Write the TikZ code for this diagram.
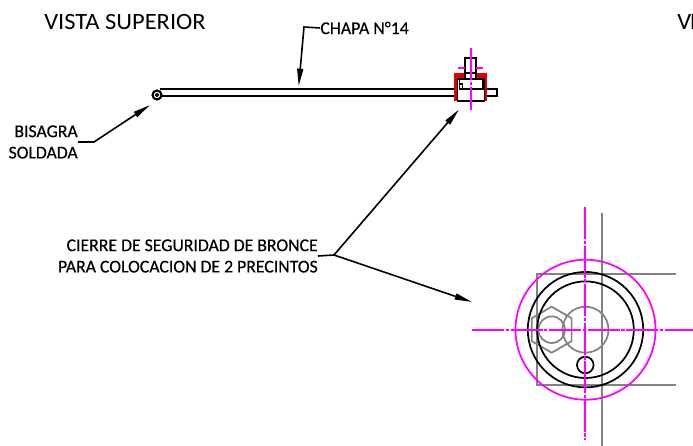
\documentclass[tikz,border=0pt]{standalone}
\usepackage{fontspec}
\newfontfamily\notefont[FakeStretch=0.985, FakeBold=0.5]{Carlito}
\newfontfamily\titlefont[FakeStretch=1.05]{Carlito}
\usetikzlibrary{arrows.meta}
\definecolor{cadpink}{RGB}{255,0,255}
\definecolor{cadred}{RGB}{225,0,0}
\definecolor{cadgray}{RGB}{130,130,130}
\tikzset{
	leader/.style={draw=black, line width=1.2pt},
	tip/.style={-{Stealth[inset=0pt, length=13pt, width=4.5pt]}},
	axisline/.style={draw=cadpink, line width=1.3pt, dash pattern=on 24pt off 1.2pt on 2.5pt off 1.2pt},
	part/.style={draw=black, line width=1.3pt},
	ghost/.style={draw=cadgray, line width=1.3pt},
	seal/.style={draw=cadred, line width=2.4pt},
	notetext/.style={inner sep=0pt, font=\notefont\fontsize{13.5}{16}\selectfont, align=right, anchor=east},
	titletext/.style={inner sep=0pt, font=\titlefont\fontsize{17.5}{20}\selectfont, anchor=west}
}
\begin{document}
\begin{tikzpicture}[x=0.75pt, y=-0.75pt]
	\useasboundingbox (0,0) rectangle (693,446);
	% titles
	\node[titletext] (topview) at (44,22) {VISTA SUPERIOR};
	\node[titletext] (sideview) at (677,22) {V\kern-1pt I};
	% notes
	\node[notetext] (chapa) at (409,28) {CHAPA N°14};
	\node[notetext] (bisagra) at (78,142) {BISAGRA\\SOLDADA};
	\node[notetext] (cierre) at (318,256) {CIERRE DE SEGURIDAD DE BRONCE\\PARA COLOCACION DE 2 PRECINTOS};
	% sheet and hinge
	\draw[part] (160,89) -- (497,89) -- (497,96) -- (160,96);
	\draw[part, line width=1.6pt] (157,95) circle (4.5);
	\draw[part, line width=0.8pt] (157,95) circle (1.5);
	% closure, top view
	\fill[white] (457,79) rectangle (485,101);
	\draw[seal, line width=3.6pt] (454,75.5) -- (487,75.5);
	\draw[seal] (456,75.5) -- (456,101);
	\draw[seal] (485.5,75.5) -- (485.5,101);
	\draw[part] (457.5,79) rectangle (484.5,101);
	\draw[part] (459.5,79) -- (459.5,89) -- (483,89) -- (483,79);
	\draw[part] (459.5,84) rectangle (462.5,89);
	\draw[part, fill=white] (465,58) rectangle (476,79);
	\draw[part] (465,73) -- (476,73);
	\draw[axisline] (470.7,48) -- (470.7,110);
	\draw[axisline, dash pattern=on 6pt off 1pt on 1.5pt off 1pt] (458,67.7) -- (465,67.7);
	\draw[axisline, dash pattern=on 6pt off 1pt on 1.5pt off 1pt] (476,67.7) -- (483,67.7);
	% closure, front view
	\coordinate (hub) at (585.5,329.7);
	\coordinate (nut) at (551.7,329.7);
	\draw[ghost] (675.7,274.3) -- (537,274.3) -- (537,384.7) -- (675.7,384.7);
	\draw[ghost] (602.3,212.7) -- (602.3,446);
	\draw[ghost] (hub) circle (23);
	\draw[ghost] (nut) circle (13.3);
	\draw[ghost] (nut) ++(90:23) -- ++(-30:23) -- ++(-90:23) -- ++(-150:23) -- ++(150:23) -- ++(90:23) -- cycle;
	\draw[part] (hub) circle (57.7);
	\draw[part] (hub) circle (48.3);
	\draw[part] (585.3,365) circle (8.3);
	\draw[draw=cadpink, line width=1.3pt] (hub) circle (70);
	\draw[axisline] (585.3,207) -- (585.3,440);
	\draw[axisline] (472,329.7) -- (693,329.7);
	% leaders
	\coordinate (chapabend) at (304,27);
	\coordinate (chapatip) at (298.7,86);
	\coordinate (bisagrabend) at (94,142);
	\coordinate (bisagratip) at (150,105);
	\coordinate (cierrebend) at (334,255);
	\coordinate (cierretip) at (459,109.5);
	\coordinate (fronttip) at (472,302);
	\draw[leader, tip] (chapa.west) -- (chapabend) -- (chapatip);
	\draw[leader, tip] (bisagra.east) -- (bisagrabend) -- (bisagratip);
	\draw[leader, tip] (cierre.east) -- (cierrebend) -- (cierretip);
	\draw[leader, tip] (cierrebend) -- (fronttip);
\end{tikzpicture}
\end{document}
